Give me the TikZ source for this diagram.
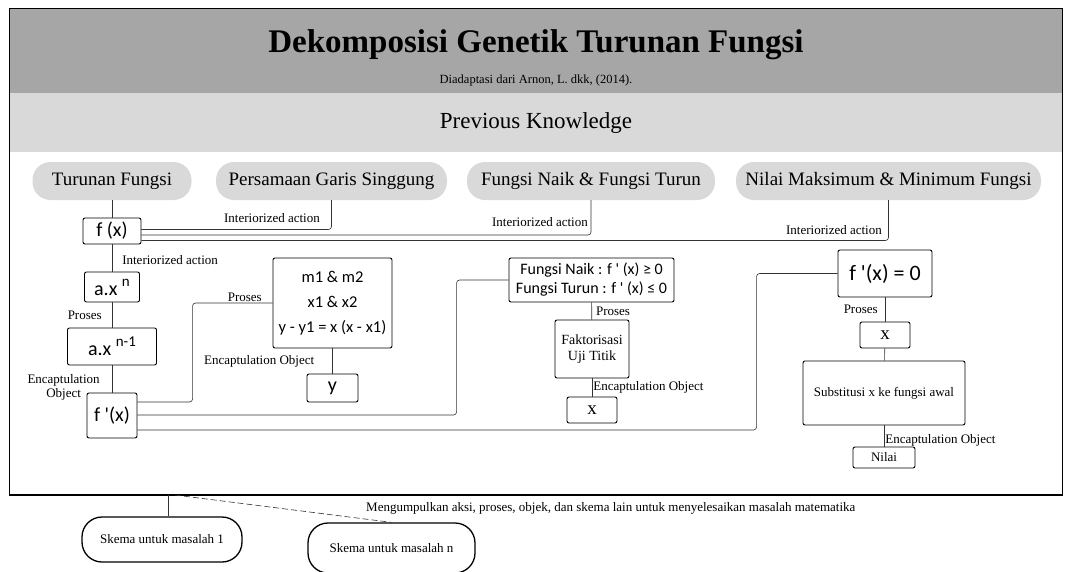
\documentclass[tikz,border=0pt]{standalone}
\usepackage{fontspec}
\setmainfont{Liberation Serif}
\newfontfamily\boxfont{Carlito}
\usepackage{color}
\definecolor{darkband}{HTML}{A6A6A6}
\definecolor{pillgray}{HTML}{D9D9D9}
\definecolor{linegray}{HTML}{333333}
\newcommand{\fsz}[2]{\fontsize{#1}{#2}\selectfont}
\newcommand{\sups}[1]{\raisebox{0.45em}{\fsz{15}{15}#1}}
\newcommand{\tq}{\textquotesingle}
\tikzset{
	pill/.style={fill=pillgray, rounded corners=18pt, minimum width=#1, minimum height=38pt, inner sep=0pt, font=\fsz{19}{19}, text height=13pt, text depth=4pt},
	box/.style 2 args={draw, line width=0.9pt, rounded corners=2pt, minimum width=#1, minimum height=#2, inner sep=1pt, align=center},
	calc/.style={font=\boxfont\fsz{#1}{#1}},
	lbl/.style={font=\fsz{13}{14}, inner sep=1pt},
	skema/.style 2 args={draw, line width=1.3pt, rounded corners=20pt, minimum width=#1, minimum height=#2, font=\fsz{13}{14}},
	conn/.style={draw=linegray, line width=0.6pt, rounded corners=3pt}
}
\begin{document}
\begin{tikzpicture}[x=1pt, y=-1pt]
	\useasboundingbox (0,0) rectangle (1073,571);
	% header bands and frame
	\fill[darkband] (9,8) rectangle (1062,93);
	\fill[pillgray] (9,93) rectangle (1062,152);
	\draw[line width=1pt] (9,8) rectangle (1062,495);
	\draw[line width=2pt] (9,495) -- (1062,495);
	\node[anchor=base, font=\bfseries\fsz{33}{33}] (judul) at (536,52) {Dekomposisi Genetik Turunan Fungsi};
	\node[anchor=base, font=\fsz{12.5}{13}] (sumber) at (536,83) {Diadaptasi dari Arnon, L. dkk, (2014).};
	\node[anchor=base, font=\fsz{23}{23}] (prev) at (536,128) {Previous Knowledge};

	% previous knowledge
	\node[pill=159] (turunan) at (112,181) {Turunan Fungsi};
	\node[pill=231] (singgung) at (331.5,181) {Persamaan Garis Singgung};
	\node[pill=248] (naikturun) at (591,181) {Fungsi Naik \& Fungsi Turun};
	\node[pill=305] (maksmin) at (888.5,181) {Nilai Maksimum \& Minimum Fungsi};

	% turunan fungsi
	\node[box={58}{26}, calc=20] (fx) at (112,231) {f (x)};
	\node[box={55}{30}, calc=20] (axn) at (112,287) {a.x \sups{n}};
	\node[box={89}{37}, calc=20] (axn1) at (112,346.5) {a.x \sups{n-1}};
	\node[box={50}{45}, calc=20] (fdx) at (112,415.5) {f \tq(x)};

	% garis singgung
	\node[box={119}{90}, font=\boxfont\fsz{16.5}{25}] (mb) at (332.5,303) {m1 \& m2\\x1 \& x2\\y - y1 = x (x - x1)};
	\node[box={51}{28}, calc=20] (yb) at (332.5,388) {y};

	% naik turun
	\node[box={165}{44}, font=\boxfont\fsz{16}{19}] (fb) at (591.5,280) {Fungsi Naik : f \tq\ (x) ≥ 0\\Fungsi Turun : f \tq\ (x) ≤ 0};
	\node[box={74}{58}, font=\fsz{14}{16}] (fk) at (592,349) {Faktorisasi\\Uji Titik};
	\node[box={50}{26}, font=\fsz{19}{19}] (xb) at (592,410) {x};

	% maksimum minimum
	\node[box={94}{47}, calc=22] (zb) at (885,273.5) {f \tq(x) = 0};
	\node[box={50}{26}, font=\fsz{19}{19}] (xz) at (885,335) {x};
	\node[box={162}{64}, font=\fsz{13}{14}] (sb) at (884,393) {Substitusi x ke fungsi awal};
	\node[box={62}{21}, font=\fsz{13}{14}] (nb) at (884,457.5) {Nilai};

	\path[conn]
		(turunan) edge (fx)
		(fx) edge node[lbl, right, xshift=9pt, yshift=-2pt] {Interiorized action} (axn)
		(axn) edge node[lbl, left, xshift=-9pt] {Proses} (axn1)
		(axn1) edge node[lbl, left, align=center, xshift=-11pt, yshift=-8pt] {Encaptulation\\Object} (fdx)
		(mb) edge node[lbl, left, xshift=-17pt] {Encaptulation Object} (yb)
		(fb) edge node[lbl, right, xshift=3pt] {Proses} (fk)
		(fk) edge node[lbl, right] {Encaptulation Object} (xb)
		(zb) edge node[lbl, left, xshift=-6pt] {Proses} (xz)
		(xz) edge (sb)
		(sb) edge node[lbl, right, yshift=-4pt] {Encaptulation Object} (nb);

	\draw[conn] ([yshift=1.5pt]fx.east) -| (singgung.south);
	\draw[conn] ([yshift=-4pt]fx.east) -| (naikturun.south);
	\draw[conn] ([yshift=-9.5pt]fx.east) -| (maksmin.south);
	\node[lbl, anchor=east] (ia1) at (321,218) {Interiorized action};
	\node[lbl, anchor=east] (ia2) at (589,222) {Interiorized action};
	\node[lbl, anchor=east] (ia3) at (883,230) {Interiorized action};

	\draw[conn] ([yshift=13.5pt]fdx.east) -| ([xshift=-80pt]mb.west) -- (mb.west);
	\draw[conn] ([yshift=0.5pt]fdx.east) -| ([xshift=-52pt]fb.west) -- (fb.west);
	\draw[conn] ([yshift=-14.5pt]fdx.east) -| ([xshift=-81pt]zb.west) -- (zb.west);
	\node[lbl, anchor=east] (pr1) at (263,297) {Proses};

	% skema
	\coordinate (frA) at (168,495);
	\coordinate (frB) at (175,495);
	\node[skema={160}{45}] (sk1) at (162,539.5) {Skema untuk masalah 1};
	\node[skema={167}{50}] (skn) at (391.5,548) {Skema untuk masalah n};
	\draw[conn] (frA) -- (frA |- sk1.north);
	\draw[conn, dash pattern=on 6pt off 3pt] (frB) -- (skn.north);
	\node[lbl, anchor=west] (kumpul) at (365,508) {Mengumpulkan aksi, proses, objek, dan skema lain untuk menyelesaikan masalah matematika};
\end{tikzpicture}
\end{document}
